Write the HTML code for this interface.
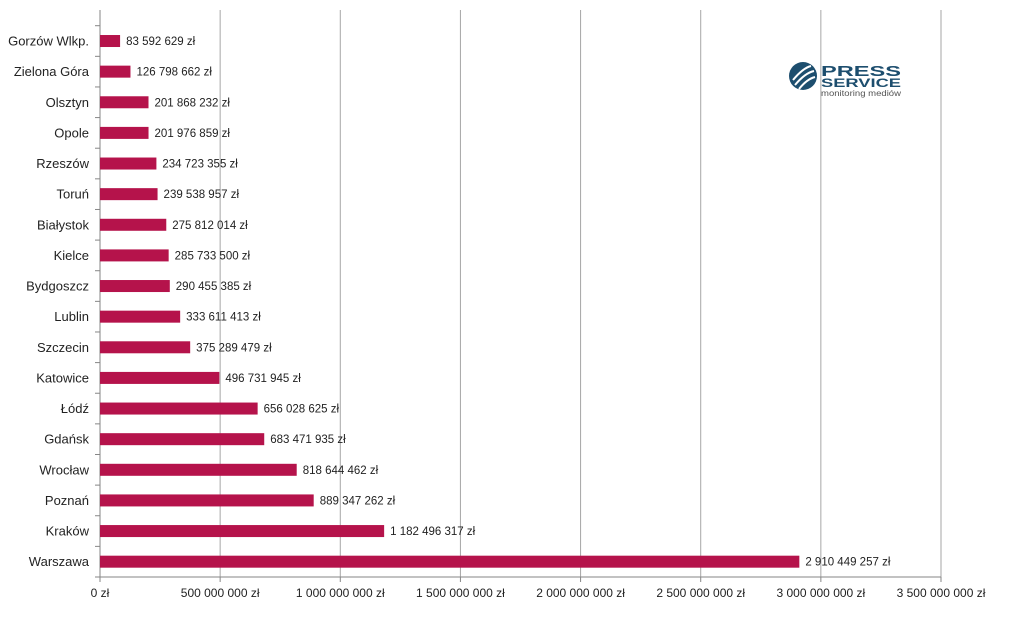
<!DOCTYPE html>
<html><head><meta charset="utf-8"><style>
body{margin:0;background:#fff;}
svg{font-family:"Liberation Sans",sans-serif;}
</style></head><body>
<svg id="chart" width="1009" height="612">
<g id="grid"></g><g id="bars"></g><g id="labels"></g>
<g>
<circle cx="803" cy="76" r="14" fill="#1d4e6e"/>
<path d="M793,80 q10,-12 18,-14 M795,85 q10,-12 19,-14 M799,89 q8,-10 16,-12" stroke="#fff" stroke-width="2" fill="none"/>
<text x="821" y="76" font-size="15" font-weight="bold" fill="#1d4e6e" textLength="80" lengthAdjust="spacingAndGlyphs">PRESS</text>
<text x="821" y="87" font-size="12" font-weight="bold" fill="#1d4e6e" textLength="80" lengthAdjust="spacingAndGlyphs">SERVICE</text>
<text x="821" y="96" font-size="8.5" fill="#555" textLength="80" lengthAdjust="spacingAndGlyphs">monitoring mediów</text>
</g>
</svg>
<script>
const categories=["Gorzów Wlkp.","Zielona Góra","Olsztyn","Opole","Rzeszów","Toruń","Białystok","Kielce","Bydgoszcz","Lublin","Szczecin","Katowice","Łódź","Gdańsk","Wrocław","Poznań","Kraków","Warszawa"];
const values=[83592629,126798662,201868232,201976859,234723355,239538957,275812014,285733500,290455385,333611413,375289479,496731945,656028625,683471935,818644462,889347262,1182496317,2910449257];
const ticks=[0,500000000,1000000000,1500000000,2000000000,2500000000,3000000000,3500000000];
const NS="http://www.w3.org/2000/svg";
const x0=100,x1=941,plotTop=10,plotBottom=577,rowTop=25.7,rowH=(plotBottom-rowTop)/categories.length,xmax=3500000000;
const xs=v=>x0+(x1-x0)*v/xmax;
const fmt=v=>String(Math.round(v)).replace(/\B(?=(\d{3})+(?!\d))/g," ")+" zł";
function mk(tag,attrs,parent,txt){const e=document.createElementNS(NS,tag);for(const k in attrs)e.setAttribute(k,attrs[k]);if(txt!==undefined)e.textContent=txt;parent.appendChild(e);return e;}
const grid=document.getElementById('grid'),bars=document.getElementById('bars'),labels=document.getElementById('labels');
ticks.forEach((t,i)=>{const x=xs(t);
 if(i>0){const l=mk('line',{x1:x,x2:x,y1:plotTop,y2:plotBottom,stroke:'#a6a6a6','stroke-width':1},grid);
 
 }
 mk('line',{x1:x,x2:x,y1:plotBottom,y2:plotBottom+5,stroke:'#868686'},grid);
 const tx=mk('text',{x:x,y:597,'font-size':12,'text-anchor':'middle',fill:'#222'},labels,fmt(t));
 
 
});
mk('line',{x1:x0,x2:x0,y1:plotTop,y2:plotBottom,stroke:'#868686'},grid);
mk('line',{x1:x0,x2:x1,y1:plotBottom,y2:plotBottom,stroke:'#868686'},grid);
for(let i=0;i<=categories.length;i++){const y=rowTop+i*rowH;mk('line',{x1:x0-5,x2:x0,y1:y,y2:y,stroke:'#868686'},grid);}
categories.forEach((c,i)=>{const cy=rowTop+(i+0.5)*rowH;
 const r=mk('rect',{x:x0,y:cy-6,width:xs(values[i])-x0,height:12,fill:'#b5134b'},bars);
 
 
 const t=mk('text',{x:x0-11,y:cy+4.5,'font-size':13,'text-anchor':'end',fill:'#222'},labels,c);
 
 
 const v=mk('text',{x:xs(values[i])+6,y:cy+4,'font-size':11.5,fill:'#222'},labels,fmt(values[i]));
 
 
});
</script>
</body></html>
